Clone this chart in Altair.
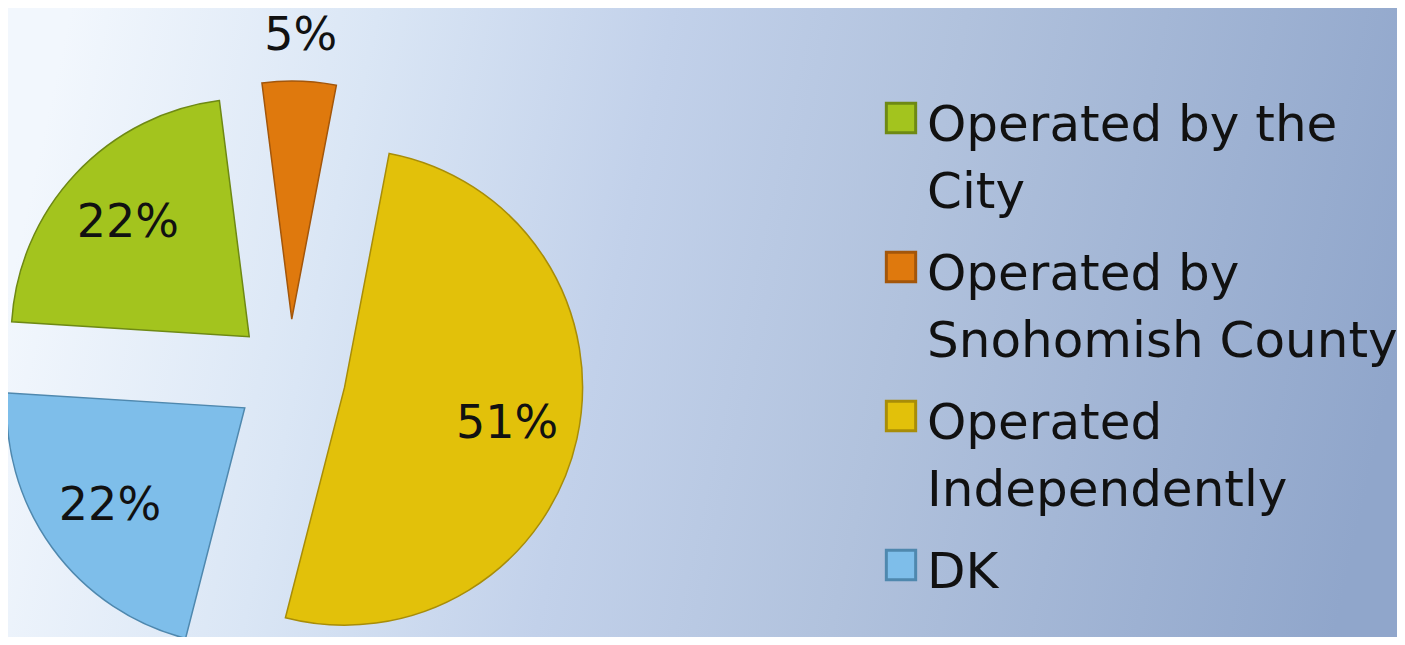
import math
import altair as alt
import pandas as pd

# ---- data ----
categories = [
    "Operated by the\nCity",
    "Operated by\nSnohomish County",
    "Operated\nIndependently",
    "DK",
]
shares = [22, 5, 51, 22]
fill_colors = ["#A3C41E", "#DF790D", "#E2C10A", "#7EBEEA"]
edge_colors = ["#6E8914", "#A3560A", "#A88D08", "#4F88AE"]

df = pd.DataFrame({"cat": categories, "share": shares, "idx": list(range(len(categories)))})

# ---- styling / geometry parameters ----
W, H = 1389, 629
R = 238                 # pie radius in px (one unit on x/y scales)
START_DEG = -86.4       # angle of first slice
EXPLODE = 0.235         # explosion distance, in radius units
IN_R = 0.70             # label distance from slice apex (inside)
OUT_R = 1.19            # label distance for tiny slices (outside)
CX, CY = 282, 367       # pie centre inside the plot area
FONT = "DejaVu Sans"
LEG_SYM_X = 893         # legend symbol centre x
LEG_TXT_X = 919         # legend label left x
LEG_Y = [110, 557]      # first / last legend entry centre y

start = math.radians(START_DEG)
xscale = alt.Scale(domain=[-CX / R, (W - CX) / R])
yscale = alt.Scale(domain=[-(H - CY) / R, CY / R])
color_scale = alt.Scale(domain=categories, range=fill_colors)
stroke_scale = alt.Scale(domain=categories, range=edge_colors)

base = (
    alt.Chart(df)
    .transform_window(t1="sum(share)", sort=[alt.SortField("idx")])
    .transform_calculate(
        t0="datum.t1 - datum.share",
        ang=f"{start} + (datum.t1 - datum.share/2) / 100 * 2 * PI",
    )
    .transform_calculate(
        cx=f"sin(datum.ang) * {EXPLODE}",
        cy=f"cos(datum.ang) * {EXPLODE}",
        lr=f"datum.share < 10 ? {EXPLODE + OUT_R} : {EXPLODE + IN_R}",
        lbl="datum.share + '%'",
    )
    .transform_calculate(
        lx="sin(datum.ang) * datum.lr",
        ly="cos(datum.ang) * datum.lr",
    )
)

bg = alt.Chart(alt.Data(values=[{"a": 1}])).mark_rect(
    color=alt.LinearGradient(
        gradient="linear",
        x1=0, y1=0.45, x2=1, y2=0.55,
        stops=[
            alt.GradientStop(color="#F2F7FD", offset=0),
            alt.GradientStop(color="#DAE6F5", offset=0.22),
            alt.GradientStop(color="#C2D1EA", offset=0.43),
            alt.GradientStop(color="#B1C2DD", offset=0.64),
            alt.GradientStop(color="#90A6CB", offset=1),
        ],
    )
).encode(x=alt.value(0), x2=alt.value(W), y=alt.value(0), y2=alt.value(H))

arcs = base.mark_arc(outerRadius=R, strokeWidth=1.5).encode(
    x=alt.X("cx:Q", scale=xscale, axis=None),
    y=alt.Y("cy:Q", scale=yscale, axis=None),
    theta=alt.Theta("t0:Q", scale=alt.Scale(domain=[0, 100], range=[start, start + 2 * math.pi])),
    theta2="t1:Q",
    color=alt.Color("cat:N", scale=color_scale, legend=None),
    stroke=alt.Stroke("cat:N", scale=stroke_scale, legend=None),
)

labels = base.mark_text(
    font=FONT, fontSize=46, color="#111111", align="center", baseline="middle"
).encode(
    x=alt.X("lx:Q", scale=xscale, axis=None),
    y=alt.Y("ly:Q", scale=yscale, axis=None),
    text="lbl:N",
)

# ---- legend (drawn from the same category list) ----
leg_y = alt.Y(
    "cat:N",
    scale=alt.Scale(type="point", domain=categories, range=LEG_Y, padding=0),
    axis=None,
)
leg_sym = alt.Chart(df).mark_square(size=860, strokeWidth=3, opacity=1).encode(
    x=alt.value(LEG_SYM_X),
    y=leg_y,
    color=alt.Color("cat:N", scale=color_scale, legend=None),
    stroke=alt.Stroke("cat:N", scale=stroke_scale, legend=None),
)
leg_txt = alt.Chart(df).mark_text(
    font=FONT, fontSize=50, color="#111111", align="left", baseline="alphabetic",
    lineBreak="\n", lineHeight=67, dy=23,
).encode(
    x=alt.value(LEG_TXT_X),
    y=leg_y,
    text="cat:N",
)

chart = (
    alt.layer(bg, arcs, labels, leg_sym, leg_txt)
    .resolve_scale(y="independent", x="independent")
    .properties(width=W, height=H, padding=0, autosize=alt.AutoSizeParams(type="none"))
    .configure_view(stroke=None)
)

chart.save("out.html", embed_options={"renderer": "svg", "actions": False})
